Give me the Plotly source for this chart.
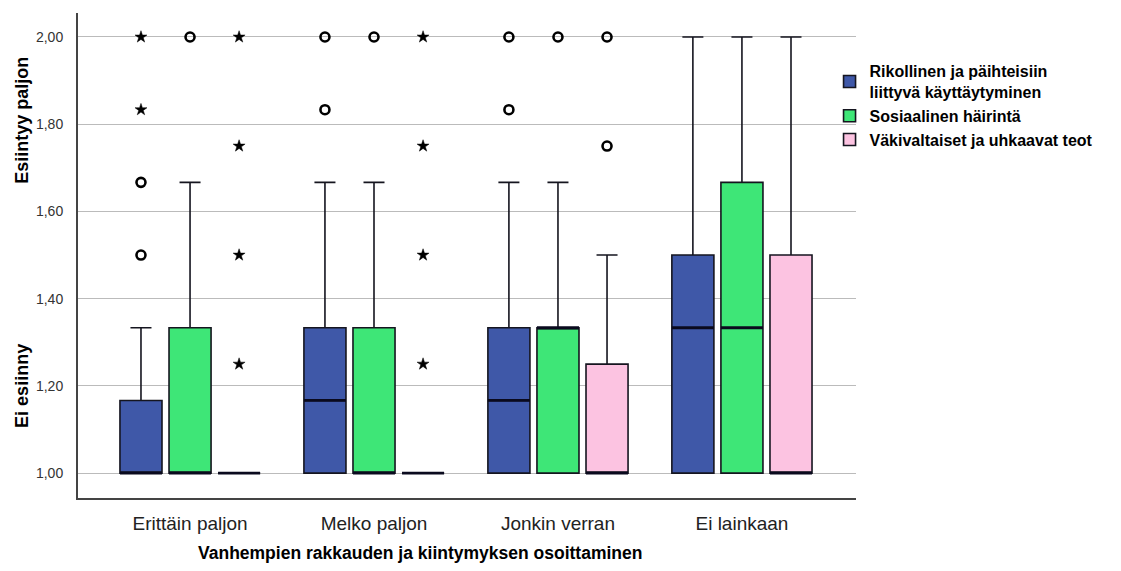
import plotly.graph_objects as go

categories = ["Erittäin paljon", "Melko paljon", "Jonkin verran", "Ei lainkaan"]
series_names = ["Rikollinen ja päihteisiin<br>liittyvä käyttäytyminen",
                "Sosiaalinen häirintä",
                "Väkivaltaiset ja uhkaavat teot"]
series_colors = ["#3F58A8", "#3EE677", "#FCC3E1"]

# box statistics per series, one value per category
q1 = [[1.0, 1.0, 1.0, 1.0],
      [1.0, 1.0, 1.0, 1.0],
      [1.0, 1.0, 1.0, 1.0]]
median = [[1.0, 1.1667, 1.1667, 1.3333],
          [1.0, 1.0, 1.3333, 1.3333],
          [1.0, 1.0, 1.0, 1.0]]
q3 = [[1.1667, 1.3333, 1.3333, 1.5],
      [1.3333, 1.3333, 1.3333, 1.6667],
      [1.0, 1.0, 1.25, 1.5]]
lower = [[1.0, 1.0, 1.0, 1.0],
         [1.0, 1.0, 1.0, 1.0],
         [1.0, 1.0, 1.0, 1.0]]
upper = [[1.3333, 1.6667, 1.6667, 2.0],
         [1.6667, 1.6667, 1.6667, 2.0],
         [1.0, 1.0, 1.5, 2.0]]

# outliers (circles) and extremes (stars): (category, value)
outliers = [
    [("Erittäin paljon", 1.6667), ("Erittäin paljon", 1.5),
     ("Melko paljon", 2.0), ("Melko paljon", 1.8333),
     ("Jonkin verran", 2.0), ("Jonkin verran", 1.8333)],
    [("Erittäin paljon", 2.0), ("Melko paljon", 2.0), ("Jonkin verran", 2.0)],
    [("Jonkin verran", 2.0), ("Jonkin verran", 1.75)],
]
extremes = [
    [("Erittäin paljon", 2.0), ("Erittäin paljon", 1.8333)],
    [],
    [("Erittäin paljon", 2.0), ("Erittäin paljon", 1.75), ("Erittäin paljon", 1.5),
     ("Erittäin paljon", 1.25),
     ("Melko paljon", 2.0), ("Melko paljon", 1.75), ("Melko paljon", 1.5),
     ("Melko paljon", 1.25)],
]

y_ticks = [1.0, 1.2, 1.4, 1.6, 1.8, 2.0]

fig = go.Figure()
for i in range(3):
    fig.add_trace(go.Box(
        name="<b>" + series_names[i] + "</b>",
        x=categories,
        q1=q1[i], median=median[i], q3=q3[i],
        lowerfence=lower[i], upperfence=upper[i],
        fillcolor=series_colors[i],
        line=dict(color="#15151f", width=1.6),
        whiskerwidth=0.5,
        boxpoints=False,
        offsetgroup=str(i),
        showlegend=True,
    ))
    # thicker median line drawn as a flat box at the median
    fig.add_trace(go.Box(
        x=categories,
        q1=median[i], median=median[i], q3=median[i],
        lowerfence=median[i], upperfence=median[i],
        fillcolor="rgba(0,0,0,0)",
        line=dict(color="#0a0a1e", width=2.8),
        whiskerwidth=0,
        boxpoints=False,
        offsetgroup=str(i),
        showlegend=False, hoverinfo="skip",
    ))

for i in range(3):
    if outliers[i]:
        fig.add_trace(go.Scatter(
            x=[c for c, v in outliers[i]], y=[v for c, v in outliers[i]],
            mode="markers", offsetgroup=str(i), showlegend=False,
            marker=dict(symbol="circle-open", size=9, color="black",
                        line=dict(width=2.6, color="black")),
            hoverinfo="skip",
        ))
    if extremes[i]:
        fig.add_trace(go.Scatter(
            x=[c for c, v in extremes[i]], y=[v for c, v in extremes[i]],
            mode="markers", offsetgroup=str(i), showlegend=False,
            marker=dict(symbol="star", size=9, color="black",
                        line=dict(width=0.5, color="black")),
            hoverinfo="skip",
        ))

fig.update_layout(
    width=1121, height=571,
    margin=dict(l=70, r=273, t=5, b=81),
    paper_bgcolor="white", plot_bgcolor="white",
    boxmode="group", boxgap=0.2, boxgroupgap=0.143,
    scattermode="group", scattergap=0.2,
    separators=", ",
    font=dict(family="Liberation Sans, Arial, sans-serif", color="#222222"),
    legend=dict(
        x=0.966, y=0.915, xanchor="left", yanchor="top",
        font=dict(size=16, family="Liberation Sans, Arial, sans-serif", color="black"),
        tracegroupgap=0, itemwidth=30,
        bgcolor="rgba(0,0,0,0)",
    ),
    xaxis=dict(
        type="category", categoryorder="array", categoryarray=categories,
        range=[-0.609, 3.62],
        showline=True, linecolor="#444444", linewidth=2,
        showgrid=False, ticks="", ticklabelstandoff=7,
        tickfont=dict(size=19, family="Liberation Sans, Arial, sans-serif",
                      color="#222222"),
    ),
    yaxis=dict(
        range=[0.943, 2.055],
        tickvals=y_ticks, tickformat=".2f",
        showline=True, linecolor="#444444", linewidth=2,
        showgrid=True, gridcolor="#BBBBBB", gridwidth=1,
        zeroline=False, ticks="", ticklabelstandoff=10,
        tickfont=dict(size=14, color="#333333"),
    ),
    annotations=[
        dict(text="<b>Vanhempien rakkauden ja kiintymyksen osoittaminen</b>",
             xref="paper", yref="paper", x=0.44, y=-0.113,
             xanchor="center", yanchor="middle", showarrow=False,
             font=dict(size=17.5, color="black")),
        dict(text="<b>Esiintyy paljon</b>", textangle=-90, xref="paper", yref="y",
             x=-0.072, y=1.81, xanchor="center", yanchor="middle", showarrow=False,
             font=dict(size=18, color="black")),
        dict(text="<b>Ei esiinny</b>", textangle=-90, xref="paper", yref="y",
             x=-0.072, y=1.2, xanchor="center", yanchor="middle", showarrow=False,
             font=dict(size=18, color="black")),
    ],
)

fig.write_html("out.html")
